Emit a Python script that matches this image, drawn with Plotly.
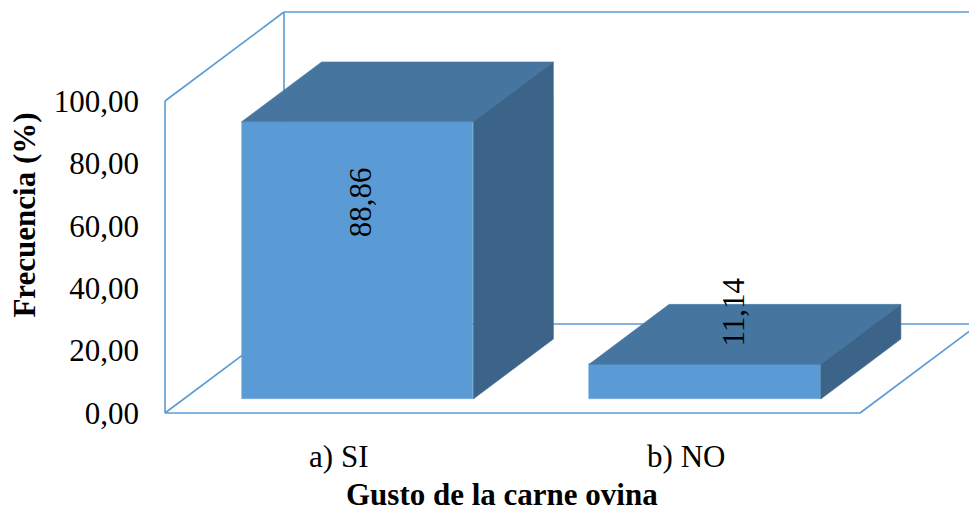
import plotly.graph_objects as go

# ---- data ----
categories = ["a) SI", "b) NO"]
frecuencia = [88.86, 11.14]
y_tick_values = [0, 20, 40, 60, 80, 100]
y_tick_text = ["0,00", "20,00", "40,00", "60,00", "80,00", "100,00"]

# ---- 3D look (oblique projection expressed in axis units) ----
DEPTH_X = 0.3424     # horizontal shift of the full floor depth (category units)
DEPTH_Y = 28.53      # vertical shift of the full floor depth (value units)
BAR_FRONT = 0.157    # depth fraction of the bar front faces
BAR_BACK = 0.83      # depth fraction of the bar back faces
BAR_WIDTH = 0.667
WALL_TOP = 100

FRONT_COLOR = "#5B9BD5"
TOP_COLOR = "#4676A0"
SIDE_COLOR = "#3B6488"
WALL_COLOR = "#5B9BD5"
FONT = "Liberation Serif, Times New Roman, serif"
FONT_SIZE = 31

# label anchor offsets (x in category units, y in value units) from each bar's front-top centre
label_offsets = [(0.007, -25.8), (0.083, 16.8)]


def proj(x, y, d):
    """Project a point at depth fraction d onto the chart plane."""
    return x + d * DEPTH_X, y + d * DEPTH_Y


x_pos = list(range(len(categories)))
x_lo, x_hi = -0.5, len(categories) - 0.5

fig = go.Figure()

# ---- walls and floor outline ----
segments = [
    [(x_lo, 0, 0), (x_lo, WALL_TOP, 0)],                 # left wall, front edge
    [(x_lo, WALL_TOP, 0), (x_lo, WALL_TOP, 1)],          # left wall, top edge
    [(x_lo, 0, 0), (x_lo, 0, 1)],                        # left wall / floor edge
    [(x_lo, 0, 1), (x_lo, WALL_TOP, 1)],                 # back corner
    [(x_lo, WALL_TOP, 1), (x_hi, WALL_TOP, 1)],          # back wall top
    [(x_lo, 0, 1), (x_hi, 0, 1)],                        # back wall / floor edge
    [(x_hi, 0, 1), (x_hi, WALL_TOP, 1)],                 # back wall right edge
    [(x_lo, 0, 0), (x_hi, 0, 0)],                        # floor front edge
    [(x_hi, 0, 0), (x_hi, 0, 1)],                        # floor right edge
]
wx, wy = [], []
for seg in segments:
    for p in seg:
        px, py = proj(*p)
        wx.append(px)
        wy.append(py)
    wx.append(None)
    wy.append(None)
fig.add_trace(go.Scatter(x=wx, y=wy, mode="lines",
                         line=dict(color=WALL_COLOR, width=1.6),
                         hoverinfo="skip", showlegend=False))

# ---- bars: top and side faces ----
half = BAR_WIDTH / 2
for xc, v in zip(x_pos, frecuencia):
    top = [proj(xc - half, v, BAR_FRONT), proj(xc + half, v, BAR_FRONT),
           proj(xc + half, v, BAR_BACK), proj(xc - half, v, BAR_BACK)]
    side = [proj(xc + half, 0, BAR_FRONT), proj(xc + half, v, BAR_FRONT),
            proj(xc + half, v, BAR_BACK), proj(xc + half, 0, BAR_BACK)]
    for poly, col in ((top, TOP_COLOR), (side, SIDE_COLOR)):
        fig.add_trace(go.Scatter(
            x=[p[0] for p in poly] + [poly[0][0]],
            y=[p[1] for p in poly] + [poly[0][1]],
            mode="lines", fill="toself", fillcolor=col,
            line=dict(color=col, width=0.5),
            hoverinfo="skip", showlegend=False))

# ---- bars: front faces ----
fx0, fy0 = proj(0, 0, BAR_FRONT)
fig.add_trace(go.Bar(
    x=[xc + fx0 for xc in x_pos], y=frecuencia, base=fy0, width=BAR_WIDTH,
    marker=dict(color=FRONT_COLOR, line=dict(color="#6FA8DC", width=0.6)),
    hoverinfo="skip", showlegend=False))

# ---- value labels ----
for xc, v, (dx, dy) in zip(x_pos, frecuencia, label_offsets):
    lx, ly = proj(xc + dx, v + dy, BAR_FRONT)
    fig.add_annotation(x=lx, y=ly, xref="x", yref="y",
                       text=f"{v:.2f}".replace(".", ","), textangle=-90,
                       showarrow=False,
                       font=dict(family=FONT, size=FONT_SIZE, color="black"))

# ---- axis title for the categories ----
fig.add_annotation(x=0.47, y=0, xref="x", yref="paper",
                   yanchor="top", yshift=-45, showarrow=False,
                   text="<b>Gusto de la carne ovina</b>",
                   font=dict(family=FONT, size=FONT_SIZE, color="black"))

fig.update_layout(
    width=969, height=512,
    margin=dict(l=150, r=0, t=0, b=82),
    paper_bgcolor="white", plot_bgcolor="white",
    bargap=0,
    xaxis=dict(range=[-0.5432, 1.8137], tickvals=x_pos, ticktext=categories,
               showgrid=False, zeroline=False, showline=False, ticks="",
               ticklabelstandoff=5,
               tickfont=dict(family=FONT, size=FONT_SIZE, color="black"),
               fixedrange=True),
    yaxis=dict(range=[-5.449, 132.372], tickvals=y_tick_values,
               ticktext=y_tick_text,
               showgrid=False, zeroline=False, showline=False, ticks="",
               ticklabelstandoff=10,
               tickfont=dict(family=FONT, size=FONT_SIZE, color="black"),
               title=dict(text="<b>Frecuencia (%)</b>", standoff=8,
                          font=dict(family=FONT, size=FONT_SIZE, color="black")),
               fixedrange=True),
)

fig.write_html("out.html")
